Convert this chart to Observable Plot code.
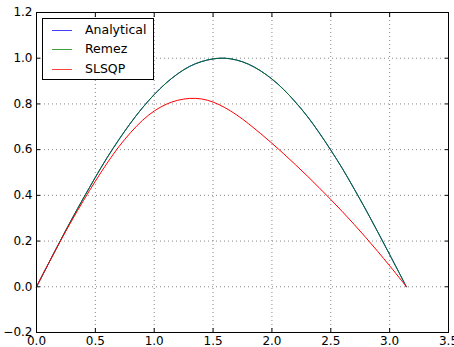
<!DOCTYPE html>
<html>
<head>
<meta charset="utf-8">
<script src="https://cdn.jsdelivr.net/npm/d3@7"></script>
<script src="https://cdn.jsdelivr.net/npm/@observablehq/plot@0.6"></script>
<style>
  body { margin: 0; background: #fff; }
  #wrap { position: relative; width: 454px; height: 347px; font-family: "DejaVu Sans", sans-serif; }
  #legend { position: absolute; left: 42px; top: 18px; width: 110px; height: 60px; border: 1px solid #000; background: #fff; box-sizing: content-box; }
  .item { position: absolute; left: 0; height: 14px; font-size: 12.5px; line-height: 14px; color: #000; }
  .item span.sw { position: absolute; left: 9px; top: 7px; width: 20px; height: 1px; }
  .item span.lb { position: absolute; left: 42px; top: 0; white-space: nowrap; }
</style>
</head>
<body>
<div id="wrap"></div>
<script>
const xs = [0, 0.1, 0.2, 0.3, 0.4, 0.5, 0.6, 0.7, 0.8, 0.9, 1.0, 1.1, 1.2, 1.3, 1.4, 1.5, 1.6, 1.7, 1.8, 1.9, 2.0, 2.1, 2.2, 2.3, 2.4, 2.5, 2.6, 2.7, 2.8, 2.9, 3.0, 3.1, 3.1416];
const analytical = [0, 0.100, 0.199, 0.296, 0.389, 0.479, 0.565, 0.644, 0.717, 0.783, 0.841, 0.891, 0.932, 0.964, 0.985, 0.997, 1.000, 0.992, 0.974, 0.946, 0.909, 0.863, 0.808, 0.746, 0.675, 0.598, 0.516, 0.427, 0.335, 0.239, 0.141, 0.042, 0];
const remez = [0, 0.100, 0.199, 0.296, 0.389, 0.479, 0.565, 0.644, 0.717, 0.783, 0.841, 0.891, 0.932, 0.964, 0.985, 0.997, 1.000, 0.992, 0.974, 0.946, 0.909, 0.863, 0.808, 0.746, 0.675, 0.598, 0.516, 0.427, 0.335, 0.239, 0.141, 0.042, 0];
const slsqp = [0, 0.100, 0.197, 0.290, 0.378, 0.462, 0.541, 0.613, 0.675, 0.728, 0.769, 0.798, 0.816, 0.824, 0.822, 0.808, 0.784, 0.752, 0.714, 0.672, 0.628, 0.582, 0.534, 0.485, 0.434, 0.382, 0.328, 0.272, 0.214, 0.154, 0.092, 0.028, 0];
const seriesNames = ["Analytical", "Remez", "SLSQP"];
const seriesColors = ["#0000ff", "#008000", "#ff0000"];
const xTicks = [0, 0.5, 1.0, 1.5, 2.0, 2.5, 3.0, 3.5];
const yTicks = [-0.2, 0, 0.2, 0.4, 0.6, 0.8, 1.0, 1.2];

const toRows = (vals) => xs.map((x, i) => ({x, y: vals[i]}));
const fmt = d3.format(".1f");
const noText = () => "";

const chart = Plot.plot({
  width: 454,
  height: 347,
  marginLeft: 36,
  marginRight: 6,
  marginTop: 12,
  marginBottom: 15,
  style: {fontFamily: "DejaVu Sans, sans-serif", fontSize: "12px", background: "#fff", overflow: "visible"},
  x: {domain: [0, 3.5], label: null},
  y: {domain: [-0.2, 1.2], label: null},
  marks: [
    Plot.gridX(xTicks, {stroke: "#888", strokeOpacity: 1, strokeDasharray: "1,3"}),
    Plot.gridY(yTicks, {stroke: "#888", strokeOpacity: 1, strokeDasharray: "1,3"}),
    Plot.line(toRows(analytical), {x: "x", y: "y", stroke: seriesColors[0], strokeWidth: 1, curve: "natural"}),
    Plot.line(toRows(remez), {x: "x", y: "y", stroke: seriesColors[1], strokeWidth: 1, strokeOpacity: 0.9, curve: "natural"}),
    Plot.line(toRows(slsqp), {x: "x", y: "y", stroke: seriesColors[2], strokeWidth: 1, curve: "natural"}),
    Plot.axisX(xTicks, {anchor: "bottom", tickSize: -4, tickPadding: 8, tickFormat: fmt, stroke: "#000", fill: "#000"}),
    Plot.axisX(xTicks, {anchor: "top", tickSize: -4, tickFormat: noText, stroke: "#000"}),
    Plot.axisY(yTicks, {anchor: "left", tickSize: -4, tickPadding: 8, tickFormat: fmt, stroke: "#000", fill: "#000"}),
    Plot.axisY(yTicks, {anchor: "right", tickSize: -4, tickFormat: noText, stroke: "#000"}),
    Plot.frame({stroke: "#000", strokeWidth: 1})
  ]
});

const wrap = document.getElementById("wrap");
wrap.appendChild(chart);
const legend = document.createElement("div");
legend.id = "legend";
const itemTops = [4, 23, 43];
seriesNames.forEach((name, i) => {
  const item = document.createElement("div");
  item.className = "item";
  item.style.top = itemTops[i] + "px";
  item.style.width = "110px";
  const sw = document.createElement("span");
  sw.className = "sw";
  sw.style.backgroundColor = seriesColors[i];
  sw.style.opacity = "0.75";
  const lb = document.createElement("span");
  lb.className = "lb";
  lb.textContent = name;
  item.appendChild(sw);
  item.appendChild(lb);
  legend.appendChild(item);
});
wrap.appendChild(legend);
</script>
</body>
</html>
